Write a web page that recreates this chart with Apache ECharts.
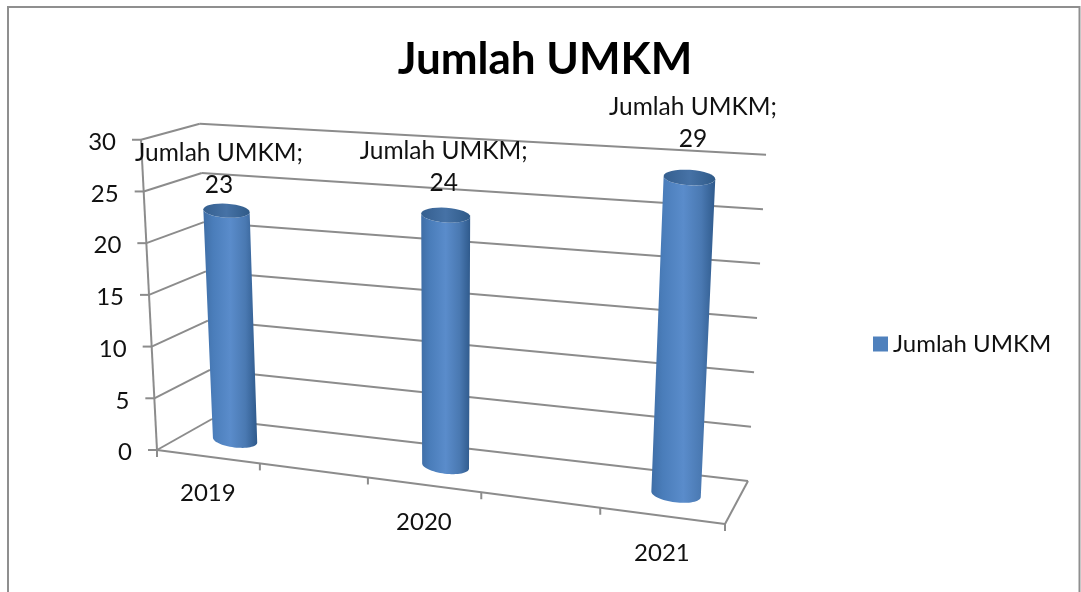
<!DOCTYPE html>
<html><head><meta charset="utf-8">
<style>html,body{margin:0;padding:0;background:#fff;overflow:hidden}#c{width:1081px;height:592px}</style>
<script src="https://cdn.jsdelivr.net/npm/echarts@6/dist/echarts.min.js"></script>
</head><body><div id="c"></div>
<script>
const seriesName = 'Jumlah UMKM';
const years = [2019, 2020, 2021];
const values = [23, 24, 29];
const yTicks = [0, 5, 10, 15, 20, 25, 30];
const xTicks = [2018.75, 2019.25, 2019.75, 2020.25, 2020.75, 2021.25];

const FONT = 'Lato, "Open Sans", sans-serif';
const LINE = '#8c8c8c';
// flat grid that the axes scale into; the 3D box is projected from it
const G = {left: 100, top: 100, width: 600, height: 300};
// floor corners as drawn: [front-left, front-right, back-right, back-left]
const FLOOR = [[157,450],[725,524],[748,481],[212,419]];
// verticals converge on this point far below the picture
const VP = [443,6000];

function squareToQuad(q){
  const [[x0,y0],[x1,y1],[x2,y2],[x3,y3]] = q;
  const dx1=x1-x2, dx2=x3-x2, dx3=x0-x1+x2-x3, dy1=y1-y2, dy2=y3-y2, dy3=y0-y1+y2-y3;
  const den=dx1*dy2-dx2*dy1;
  const g=(dx3*dy2-dx2*dy3)/den, h=(dx1*dy3-dx3*dy1)/den;
  const a=x1-x0+g*x1, b=x3-x0+h*x3, d=y1-y0+g*y1, e=y3-y0+h*y3;
  return (u,v)=>{const w=g*u+h*v+1; return [(a*u+b*v+x0)/w,(d*u+e*v+y0)/w];};
}
const floorH = squareToQuad(FLOOR);
// u: 0..1 along the years, v: 0 front..1 back, h: 0..1 of the value axis
function box(u,v,h){
  const a=floorH(u+0.08*u*(1-u),v);
  const s=(v===0.5 ? 0.0531+0.0071*u : 0.0559+0.0062*u-0.003*v)*h;
  return [a[0]-(VP[0]-a[0])*s, a[1]-(VP[1]-a[1])*s];
}
function project(api,x,val,v){
  const p=api.coord([x,val]);
  return box((p[0]-G.left)/G.width, v, (G.top+G.height-p[1])/G.height);
}
const lineEl=(a,b)=>({type:'line',shape:{x1:a[0],y1:a[1],x2:b[0],y2:b[1]},style:{stroke:LINE,lineWidth:2},silent:true});
const textEl=(x,y,text,size,align)=>({type:'text',silent:true,style:{x,y,text,fill:'#111',font:size+'px '+FONT,align:align||'center',verticalAlign:'middle'}});

const X0=2018.75, X1=2021.25;
function renderY(params,api){
  const val=api.value(0);
  const f=project(api,X0,val,0), bl=project(api,X0,val,1), br=project(api,X1,val,1);
  return {type:'group',children:[
    lineEl(f,bl), lineEl(bl,br), lineEl(f,[f[0]-9,f[1]]),
    textEl(f[0]-25,f[1]+2.5,String(val),24,'right')
  ]};
}
function renderX(params,api){
  const f=project(api,api.value(0),0,0);
  return {type:'group',children:[lineEl(f,[f[0],f[1]+7])]};
}
function renderFrame(params,api){
  const a=project(api,X0,0,0), b=project(api,X0,30,0), c=project(api,X1,0,0), d=project(api,X1,0,1);
  return {type:'group',children:[lineEl(a,b),lineEl(a,c),lineEl(c,d)]};
}
function rim(c,a,flat,seg0,seg1){
  const bx=-a[1]*flat, by=a[0]*flat, pts=[];
  for(let i=0;i<=32;i++){
    const t=seg0+(seg1-seg0)*i/32;
    pts.push([c[0]+a[0]*Math.cos(t)+bx*Math.sin(t), c[1]+a[1]*Math.cos(t)+by*Math.sin(t)]);
  }
  return pts;
}
function renderBar(params,api){
  const yr=api.value(0), val=api.value(1);
  const cb=project(api,yr,0,.5), ct=project(api,yr,val,.5);
  const uu=(yr-X0)/(X1-X0);
  const radiusVec=(h,rx)=>{
    const l=project(api,yr-.1,h,.5), r=project(api,yr+.1,h,.5);
    const dx=r[0]-l[0], dy=r[1]-l[1], n=Math.hypot(dx,dy);
    return [dx/n*rx,dy/n*rx];
  };
  const rx=22+3.2*uu;
  const ab=radiusVec(0,rx), at=radiusVec(val,rx*1.04);
  const body=rim(cb,ab,.33,Math.PI,0).concat(rim(ct,at,.3,0,Math.PI));
  const capPts=rim(ct,at,.3,0,Math.PI*2);
  const sideGrad=new echarts.graphic.LinearGradient(0,0,1,0,[
    {offset:0,color:'#3f6ea6'},{offset:.18,color:'#4a7dba'},{offset:.5,color:'#5a8ccb'},
    {offset:.78,color:'#4a79b2'},{offset:1,color:'#2f5a8c'}]);
  const capGrad=new echarts.graphic.LinearGradient(0,0,1,0,[
    {offset:0,color:'#355f8f'},{offset:.5,color:'#4672a6'},{offset:1,color:'#2f5a88'}]);
  const lx=ct[0]+(yr-2020)*5.5-2, ly=ct[1]-32+(yr-2020)*-6;
  return {type:'group',children:[
    {type:'polygon',shape:{points:body},style:{fill:sideGrad}},
    {type:'polygon',shape:{points:capPts},style:{fill:capGrad}},
    textEl(lx,ly-32,seriesName+';',24.5),
    textEl(lx,ly,String(val),24.5)
  ]};
}

const chart=echarts.init(document.getElementById('c'));
chart.setOption({
  animation:false,
  backgroundColor:'#fff',
  title:{text:seriesName,left:540,top:33,textAlign:'center',
    textStyle:{fontFamily:FONT,fontWeight:'bold',fontSize:44,color:'#000'}},
  legend:{data:[{name:seriesName,icon:'rect'}],left:868,top:327,itemWidth:15,itemHeight:15,itemGap:6,
    textStyle:{fontFamily:FONT,fontSize:24,color:'#111'},selectedMode:false},
  grid:Object.assign({},G),
  xAxis:{type:'value',min:X0,max:X1,show:false},
  yAxis:{type:'value',min:0,max:30,interval:5,show:false},
  graphic:[{type:'rect',shape:{x:8,y:7,width:1071.5,height:640},style:{fill:'none',stroke:'#8f8f8f',lineWidth:2},silent:true}],
  series:[
    {name:'frame',type:'custom',coordinateSystem:'cartesian2d',clip:false,silent:true,z:1,data:[[X0,0]],renderItem:renderFrame,encode:{x:0,y:1}},
    {name:'yticks',type:'custom',coordinateSystem:'cartesian2d',clip:false,silent:true,z:2,data:yTicks.map(v=>[v]),renderItem:renderY,encode:{y:0}},
    {name:'xticks',type:'custom',coordinateSystem:'cartesian2d',clip:false,silent:true,z:2,data:xTicks.map(v=>[v]),renderItem:renderX,encode:{x:0}},
    {name:'xlabels',type:'custom',coordinateSystem:'cartesian2d',clip:false,silent:true,z:2,data:years.map(v=>[v]),
      renderItem:(p,api)=>{const f=project(api,api.value(0),0,0);return textEl(f[0],f[1]+37,String(api.value(0)),24);},encode:{x:0}},
    {name:seriesName,type:'custom',coordinateSystem:'cartesian2d',clip:false,silent:true,z:3,itemStyle:{color:'#4f81bd'},
      data:years.map((y,i)=>[y,values[i]]),renderItem:renderBar,encode:{x:0,y:1}}
  ]
});
</script></body></html>
